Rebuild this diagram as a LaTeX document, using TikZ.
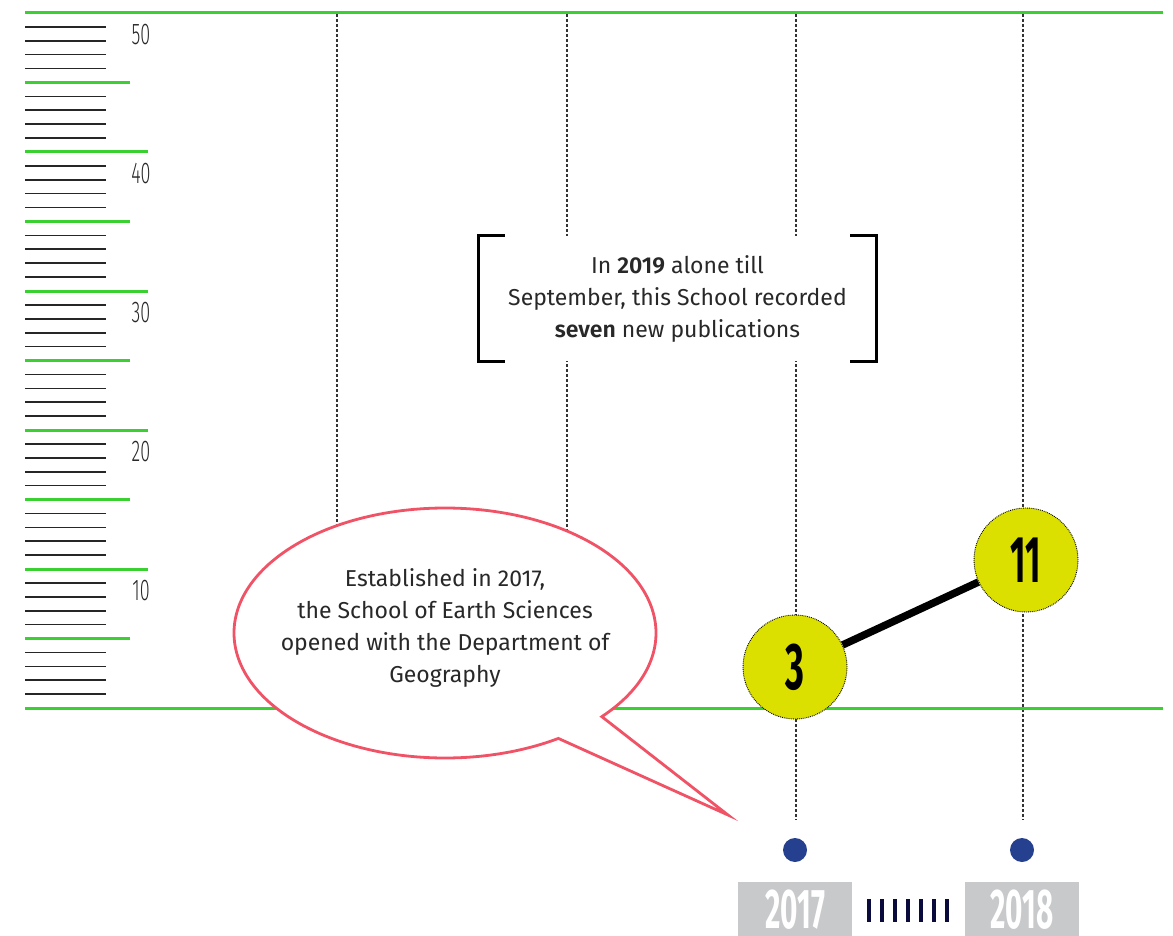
\documentclass[tikz,border=0pt]{standalone}
\usepackage{fontspec}
\setmainfont{Fira Sans}[BoldFont=* SemiBold]
\newfontfamily\digitfont{Fira Sans}[UprightFont=* Light, BoldFont=* Bold]
\usetikzlibrary{positioning}

\definecolor{axisgreen}{RGB}{58,208,50}
\definecolor{bubblered}{RGB}{240,82,102}
\definecolor{dotblue}{RGB}{37,64,143}
\definecolor{ballyellow}{RGB}{220,224,0}
\definecolor{yeargrey}{RGB}{200,201,203}
\definecolor{barnavy}{RGB}{10,10,60}
\definecolor{inkgrey}{RGB}{40,40,40}

\newcommand{\squeeze}[2][0.5]{\scalebox{#1}[1]{#2}}

\tikzset{
    tick/.style={line width=1.6pt, black!85},
    greenline/.style={line width=3pt, axisgreen},
    gridline/.style={line width=1.3pt, black!80, dash pattern=on 3pt off 2pt},
    axislabel/.style={inner sep=0pt, text=inkgrey, font=\digitfont\fontsize{30}{30}\selectfont},
    ball/.style={circle, draw=black, densely dotted, line width=0.9pt, fill=ballyellow, minimum size=104pt, inner sep=0pt, font=\digitfont\bfseries\fontsize{66}{66}\selectfont},
    yeardot/.style={circle, fill=dotblue, minimum size=24pt, inner sep=0pt},
    yearbox/.style={fill=yeargrey, minimum width=114pt, minimum height=54pt, inner sep=0pt},
    yearlabel/.style={inner sep=0pt, text=white, font=\digitfont\bfseries\fontsize{56}{56}\selectfont},
    notebox/.style={fill=white, minimum width=397pt, minimum height=125pt, align=center, text=inkgrey, font=\fontsize{23}{32}\selectfont},
    bracket/.style={line width=2.8pt, black},
    bubble/.style={line width=2.8pt, bubblered, fill=white, line join=miter},
    storytext/.style={align=center, text=inkgrey, font=\fontsize{23}{32}\selectfont}
}

\begin{document}
\begin{tikzpicture}[x=1pt, y=-1pt]
    \useasboundingbox (0,0) rectangle (1173,936);

    \foreach \m in {0,...,9}
        \foreach \j in {1,2,3,4}
            \draw[tick] (25,13+69.5*\m+13.9*\j) -- (106,13+69.5*\m+13.9*\j);
    \foreach \k in {0,...,4}
        \draw[greenline] (25,82.5+139*\k) -- (130,82.5+139*\k);
    \foreach \k in {1,...,4}
        \draw[greenline] (25,13+139*\k) -- (148,13+139*\k);
    \foreach \val [count=\k from 0] in {50,40,30,20,10}
        \node[axislabel] (lab\val) at (141,35+139*\k) {\squeeze[0.6]{\val}};

    \foreach \x/\y in {337/600, 567/600, 796/820, 1023/820}
        \draw[gridline] (\x,14) -- (\x,\y);
    \draw[greenline] (25,13) -- (1163,13);
    \draw[greenline] (25,708) -- (1163,708);

    \node[notebox] (note) at (677.5,298.5) {In \textbf{2019} alone till\\September, this School recorded\\\textbf{seven} new publications};
    \draw[bracket] ([xshift=26pt]note.north west) -- (note.north west) -- (note.south west) -- ([xshift=26pt]note.south west);
    \draw[bracket] ([xshift=-26pt]note.north east) -- (note.north east) -- (note.south east) -- ([xshift=-26pt]note.south east);

    \coordinate (tip) at (728,815);
    \draw[bubble] (445,633) ++(42:211 and 125) arc[start angle=42, end angle=-302.5, x radius=211, y radius=125] -- (tip) -- cycle;
    \node[storytext] (story) at (445,628) {Established in 2017,\\the School of Earth Sciences\\opened with the Department of\\Geography};

    \node[ball] (n3) at (795,667) {\squeeze[0.55]{3}};
    \node[ball] (n11) at (1026,560) {\squeeze{11}};
    \draw[line width=7.5pt] (n3) -- (n11);

    \node[yeardot] (d17) at (795,850) {};
    \node[yeardot] (d18) at (1022,850) {};
    \node[yearbox, below=20pt of d17] (y17) {};
    \node[yearbox, below=20pt of d18] (y18) {};
    \node[yearlabel] (t17) at (y17) {\squeeze[0.53]{2017}};
    \node[yearlabel] (t18) at (y18) {\squeeze[0.53]{2018}};
    \foreach \i in {0,...,6}
        \draw[line width=4pt, barnavy] (869+13*\i,899) -- (869+13*\i,922);
\end{tikzpicture}
\end{document}
